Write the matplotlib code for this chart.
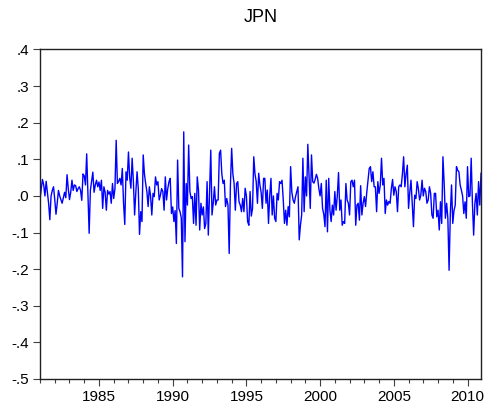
import matplotlib
matplotlib.use("Agg")
import matplotlib.pyplot as plt
import numpy as np
from matplotlib.ticker import FixedLocator, FuncFormatter, MultipleLocator

plt.rcParams['font.family'] = ['Liberation Sans', 'DejaVu Sans']

# monthly returns, JPN, 1981M01 .. 2010M12
ret_1981_1985 = [
    -0.010, 0.020, 0.045, 0.030, 0.000, 0.040, 0.010, -0.020, -0.065, 0.000, 0.015, 0.025,
    -0.010, -0.050, -0.020, 0.015, 0.000, -0.010, -0.020, -0.005, 0.010, -0.005, 0.058, 0.020,
    -0.010, 0.010, 0.043, 0.015, 0.030, 0.028, 0.012, 0.020, 0.025, 0.015, -0.012, 0.060,
    0.055, 0.030, 0.115, 0.010, -0.102, 0.015, 0.040, 0.065, 0.010, 0.030, 0.043, 0.025,
    0.038, 0.015, 0.043, -0.034, 0.025, 0.010, -0.039, 0.015, 0.005, 0.012, -0.020, 0.034,
]
ret_1986_1990 = [
    -0.007, 0.020, 0.152, 0.034, 0.040, 0.048, 0.030, 0.075, -0.020, -0.078, 0.066, 0.043,
    0.120, 0.050, 0.021, 0.103, 0.040, -0.052, 0.010, 0.066, 0.020, -0.105, -0.043, -0.070,
    0.112, 0.060, 0.034, 0.012, -0.029, 0.025, 0.000, -0.052, 0.007, -0.002, 0.052, 0.030,
    0.039, -0.011, 0.002, 0.020, 0.012, -0.039, 0.052, -0.011, 0.020, 0.039, 0.048, -0.048,
    -0.030, -0.070, -0.040, -0.130, 0.098, -0.034, -0.043, -0.060, -0.221, 0.175, -0.125, 0.034,
]
ret_1991_1995 = [
    -0.025, 0.139, 0.012, -0.007, -0.002, -0.075, 0.007, -0.080, 0.052, 0.016, -0.093, -0.020,
    -0.052, -0.030, -0.089, -0.075, 0.039, -0.107, 0.010, 0.125, -0.052, -0.020, 0.025, -0.025,
    -0.011, -0.011, 0.116, 0.125, 0.060, 0.034, 0.043, -0.029, -0.007, -0.025, -0.157, 0.030,
    0.130, 0.060, 0.034, -0.039, 0.034, 0.039, -0.016, -0.025, -0.043, -0.007, -0.043, 0.021,
    0.000, -0.070, -0.080, 0.012, -0.055, -0.034, 0.107, 0.060, 0.039, -0.020, 0.062, 0.030,
]
ret_1996_2000 = [
    0.010, -0.034, 0.048, 0.048, -0.020, 0.016, -0.075, 0.000, 0.048, -0.052, 0.000, -0.061,
    -0.070, 0.007, -0.011, 0.039, 0.034, 0.043, -0.010, -0.075, -0.039, -0.080, -0.029, -0.057,
    0.080, 0.010, -0.011, -0.020, -0.002, 0.012, 0.025, -0.120, -0.080, -0.052, 0.103, -0.043,
    0.052, 0.000, 0.141, 0.050, -0.034, 0.112, 0.039, 0.035, 0.045, 0.059, 0.048, 0.020,
    0.000, 0.034, -0.034, -0.050, -0.084, 0.043, -0.098, 0.048, -0.039, -0.070, -0.025, -0.052,
]
ret_2001_2005 = [
    0.012, -0.039, 0.000, 0.064, -0.039, -0.011, -0.080, -0.070, -0.075, 0.034, -0.011, -0.020,
    -0.052, 0.039, 0.043, 0.025, 0.043, -0.080, -0.025, -0.020, -0.066, 0.028, -0.052, -0.020,
    -0.002, -0.029, 0.010, 0.043, 0.075, 0.080, 0.039, 0.066, 0.025, 0.025, -0.043, 0.039,
    0.007, 0.030, 0.103, 0.030, 0.048, -0.048, -0.011, -0.025, -0.015, -0.020, 0.020, 0.045,
    0.002, 0.025, 0.012, -0.043, 0.025, 0.030, 0.025, 0.060, 0.107, 0.025, 0.060, 0.084,
]
ret_2006_2010 = [
    -0.034, 0.010, 0.043, -0.020, -0.084, 0.002, -0.007, 0.039, 0.020, -0.011, 0.002, 0.043,
    0.000, 0.021, 0.012, -0.020, -0.011, 0.025, 0.007, -0.052, -0.061, 0.007, 0.007, -0.057,
    -0.039, -0.093, -0.016, -0.075, 0.107, 0.034, -0.061, -0.020, -0.061, -0.203, -0.050, 0.030,
    -0.075, -0.040, -0.025, 0.080, 0.070, 0.066, 0.030, 0.016, 0.000, -0.048, -0.016, -0.061,
    0.080, -0.002, 0.000, 0.103, -0.020, -0.107, -0.020, 0.007, -0.052, 0.039, -0.025, 0.062,
]
returns = (ret_1981_1985 + ret_1986_1990 + ret_1991_1995
           + ret_1996_2000 + ret_2001_2005 + ret_2006_2010)
start_year = 1981
year_labels = [1985, 1990, 1995, 2000, 2005, 2010]
y_ticks = [0.4, 0.3, 0.2, 0.1, 0.0, -0.1, -0.2, -0.3, -0.4, -0.5]

t = start_year + np.arange(len(returns)) / 12.0

fig = plt.figure(figsize=(4.85, 4.07), dpi=100)
ax = fig.add_axes([0.0825, 0.0688, 0.9093, 0.8096])
ax.plot(t, returns, color='#0000ff', lw=1.0)

ax.set_xlim(t[0], t[-1])
ax.set_ylim(-0.5, 0.4)
ax.xaxis.set_major_locator(FixedLocator(year_labels))
ax.xaxis.set_minor_locator(MultipleLocator(1))
ax.yaxis.set_major_locator(FixedLocator(y_ticks))


def fmt(v, pos):
    s = '%.1f' % v
    if s == '-0.0':
        s = '0.0'
    return s.replace('0.', '.', 1)


ax.yaxis.set_major_formatter(FuncFormatter(fmt))
ax.tick_params(axis='both', which='major', direction='out', length=5, width=0.8,
               labelsize=11, color='#404040', pad=3)
ax.tick_params(axis='x', which='minor', direction='out', length=3, width=0.8, color='#404040')
ax.tick_params(top=False, right=False)
for sp in ax.spines.values():
    sp.set_linewidth(1.0)
    sp.set_color('#202020')

ax.set_title('JPN', fontsize=13, pad=20)

fig.savefig('out.png', dpi=100)
